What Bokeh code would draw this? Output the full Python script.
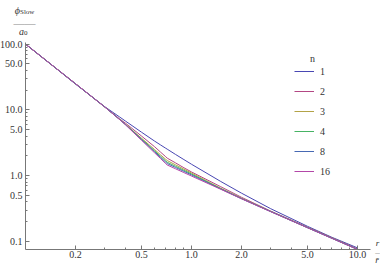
import math
from bokeh.plotting import figure
from bokeh.models import Range1d, FixedTicker, Legend, LegendItem, Label
from bokeh.embed import file_html
from bokeh.resources import INLINE

# ---- data ----
r_ratio = [0.1, 0.15, 0.2, 0.3, 0.37, 0.4, 0.5, 0.6, 0.65, 0.7, 0.714, 0.8, 0.9, 1.0,
           1.5, 2.0, 3.0, 5.0, 7.0, 10.0]
phi_n1 = [100, 44.3, 24.7, 11.2, 7.76, 6.77, 4.58, 3.35, 2.94, 2.61, 2.53, 2.11, 1.757, 1.493,
          0.817, 0.543, 0.315, 0.170, 0.116, 0.080]
phi_n2 = [100, 44.4, 25.0, 11.1, 7.25, 6.30, 4.00, 2.75, 2.29, 1.94, 1.85, 1.57, 1.32, 1.14,
          0.68, 0.47, 0.29, 0.165, 0.114, 0.077]
phi_n3 = [100, 44.4, 25.0, 11.1, 7.15, 6.06, 3.71, 2.49, 2.08, 1.77, 1.70, 1.466, 1.258, 1.097,
          0.645, 0.455, 0.287, 0.163, 0.113, 0.0762]
phi_n4 = [100, 44.4, 25.0, 11.1, 7.12, 6.02, 3.61, 2.38, 1.98, 1.67, 1.60, 1.393, 1.206, 1.061,
          0.635, 0.45, 0.286, 0.1625, 0.1125, 0.076]
phi_n8 = [100, 44.4, 25.0, 11.1, 7.10, 5.98, 3.54, 2.305, 1.909, 1.604, 1.53, 1.338, 1.164, 1.028,
          0.628, 0.448, 0.285, 0.162, 0.112, 0.0758]
phi_n16 = [100, 44.4, 25.0, 11.1, 7.08, 5.94, 3.455, 2.22, 1.83, 1.525, 1.454, 1.276, 1.115, 0.988,
           0.622, 0.446, 0.284, 0.162, 0.112, 0.0757]
series = [phi_n1, phi_n2, phi_n3, phi_n4, phi_n8, phi_n16]
series_labels = ["1", "2", "3", "4", "8", "16"]
colors = ["#4947b3", "#b34784", "#b3a347", "#47b364", "#4769b3", "#b347a8"]

x_ticks = [0.2, 0.5, 1, 2, 5, 10]
x_tick_labels = ["0.2", "0.5", "1.0", "2.0", "5.0", "10.0"]
x_minor = [0.3, 0.4, 0.6, 0.7, 0.8, 0.9, 3, 4, 6, 7, 8, 9]
y_ticks = [0.1, 0.5, 1, 5, 10, 50, 100]
y_tick_labels = ["0.1", "0.5", "1.0", "5.0", "10.0", "50.0", "100.0"]
y_minor = [0.2, 0.3, 0.4, 0.6, 0.7, 0.8, 0.9, 2, 3, 4, 6, 7, 8, 9,
           20, 30, 40, 60, 70, 80, 90]

# axis extents (where the axis lines start/end) and the full view ranges
X_AXIS = (0.1, 12.0)
Y_AXIS = (0.0756, 106.1)
X0, X1 = 0.0707, 13.76
Y0, Y1 = 0.0447, 459.7

W, H = 380, 264

SERIF = "Liberation Serif"
AXC = "#777777"
TXT = "#333333"

p = figure(width=W, height=H, x_axis_type="log", y_axis_type="log",
           x_range=Range1d(X0, X1), y_range=Range1d(Y0, Y1),
           output_backend="svg", toolbar_location=None,
           min_border_left=0, min_border_right=0,
           min_border_top=0, min_border_bottom=0)
p.outline_line_color = None
p.xgrid.visible = False
p.ygrid.visible = False
p.background_fill_color = "white"
p.border_fill_color = "white"

xa, ya = p.xaxis[0], p.yaxis[0]
xa.fixed_location = Y_AXIS[0]
ya.fixed_location = X_AXIS[0]
xa.bounds = X_AXIS
ya.bounds = Y_AXIS
for ax, tk, lab_, mn, so in ((xa, x_ticks, x_tick_labels, x_minor, 2),
                             (ya, y_ticks, y_tick_labels, y_minor, 3)):
    ax.ticker = FixedTicker(ticks=tk, minor_ticks=mn)
    ax.major_label_overrides = {t: l for t, l in zip(tk, lab_)}
    ax.axis_line_color = AXC
    ax.major_tick_line_color = AXC
    ax.minor_tick_line_color = AXC
    ax.major_tick_in = 4
    ax.major_tick_out = 0
    ax.minor_tick_in = 2
    ax.minor_tick_out = 0
    ax.major_label_text_font = SERIF
    ax.major_label_text_font_size = "10px"
    ax.major_label_text_color = TXT
    ax.major_label_standoff = so

renderers = []
for ys, c in zip(series, colors):
    r = p.line(r_ratio, ys, line_color=c, line_width=1)
    renderers.append(r)


# page-pixel -> data helpers, used only to place the text annotations
def dx(sx):
    return 10 ** (math.log10(X0) + sx / W * math.log10(X1 / X0))


def dy(sy):
    return 10 ** (math.log10(Y1) - sy / H * math.log10(Y1 / Y0))


legend = Legend(items=[LegendItem(label=l, renderers=[r]) for l, r in zip(series_labels, renderers)],
                location=(294, H - 181), padding=0, margin=0, spacing=0,
                glyph_width=20, glyph_height=20, label_height=20, label_standoff=6,
                label_text_font=SERIF, label_text_font_size="10px", label_text_color=TXT,
                background_fill_alpha=0, border_line_color=None)
p.add_layout(legend)


def lab(text, sx, sy, size="10px", align="center", style="normal", color=TXT):
    p.add_layout(Label(x=dx(sx), y=dy(sy), text=text, text_font=SERIF,
                       text_font_size=size, text_align=align, text_baseline="alphabetic",
                       text_font_style=style, text_color=color))


lab("n", 312, 58)
# y axis title: phi_Slow / a_0
lab("\u03d5", 19.5, 10, size="10px", align="right", style="italic")
lab("Slow", 19.5, 11.5, size="7px", align="left")
lab("\u2014\u2014", 24, 22.5, size="11px", color="#888888")
lab("a", 23.5, 31, size="10px", align="right", style="italic")
lab("0", 23.5, 32.5, size="7px", align="left")
# x axis title: r / r-bar
lab("r", 377, 242, size="9px", style="italic")
lab("\u2013", 377, 251.5, size="9px", color="#888888")
lab("r\u0304", 376.5, 259.5, size="9px", style="italic")

open("out.html", "w").write(file_html(p, INLINE))
